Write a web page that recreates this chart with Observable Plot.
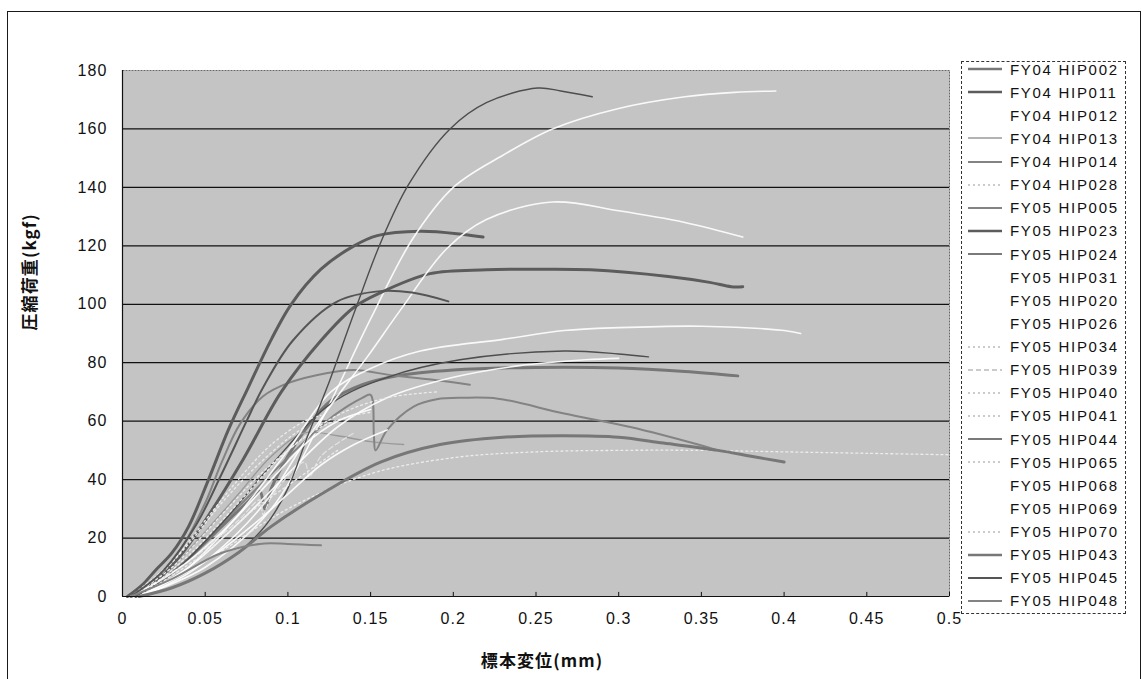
<!DOCTYPE html>
<html>
<head>
<meta charset="utf-8">
<script src="https://cdn.jsdelivr.net/npm/d3@7"></script>
<script src="https://cdn.jsdelivr.net/npm/@observablehq/plot@0.6"></script>
<style>
  body { margin: 0; background: #fff; overflow: hidden; }
  #chart { position: relative; width: 1142px; height: 679px; }
  #chart svg text { letter-spacing: 1.1px; }
  #frame { position: absolute; left: 7px; top: 11px; width: 1132px; height: 720px; border: 1.5px solid #1a1a1a; pointer-events: none; }
  #legend { position: absolute; left: 961px; top: 61px; width: 163px; height: 551px; border: 1px dashed #333; background: #fff; }
  .row { position: absolute; left: 0; height: 24px; display: flex; align-items: center; }
  .row span { font: 15px "Liberation Sans", Arial, sans-serif; letter-spacing: 1.7px; color: #111; margin-left: 2px; white-space: nowrap; }
</style>
</head>
<body>
<div id="chart"></div>
<script>
// Compression load (kgf) versus specimen displacement (mm), one curve per specimen.
const seriesNames = [
  "FY04 HIP002", "FY04 HIP011", "FY04 HIP012", "FY04 HIP013", "FY04 HIP014", "FY04 HIP028",
  "FY05 HIP005", "FY05 HIP023", "FY05 HIP024", "FY05 HIP031", "FY05 HIP020", "FY05 HIP026",
  "FY05 HIP034", "FY05 HIP039", "FY05 HIP040", "FY05 HIP041", "FY05 HIP044", "FY05 HIP065",
  "FY05 HIP068", "FY05 HIP069", "FY05 HIP070", "FY05 HIP043", "FY05 HIP045", "FY05 HIP048"
];

// [displacement mm, load kgf]
const FY04_HIP002 = [[0.005,0],[0.02,4],[0.04,13],[0.06,24],[0.075,32],[0.083,36],[0.086,30],[0.09,37],[0.1,48],[0.113,59],[0.126,67],[0.145,72.5],[0.166,75.5],[0.2,77.5],[0.25,78.4],[0.3,78.2],[0.34,77],[0.372,75.5]];
const FY04_HIP011 = [[0.003,0],[0.012,4],[0.02,9],[0.03,15],[0.04,24],[0.052,40],[0.064,57],[0.076,71.5],[0.09,88],[0.102,100],[0.12,112],[0.14,120],[0.154,123.5],[0.18,125],[0.205,124],[0.218,123]];
const FY04_HIP012 = [[0.01,0],[0.05,10],[0.09,30],[0.12,60],[0.15,95],[0.175,122],[0.2,140],[0.23,151],[0.26,160],[0.3,167],[0.34,171],[0.37,172.5],[0.395,173]];
const FY04_HIP013 = [[0.005,0],[0.025,7],[0.045,19],[0.07,35],[0.09,48],[0.11,56],[0.13,55],[0.15,53],[0.17,52]];
const FY04_HIP014 = [[0.005,0],[0.02,6],[0.035,16],[0.05,32],[0.06,46],[0.071,59],[0.085,68.5],[0.1,73],[0.124,76.5],[0.14,77.5],[0.164,75.6],[0.19,74],[0.21,72.5]];
const FY04_HIP028 = [[0.01,0],[0.05,12],[0.1,30],[0.15,42],[0.2,47.5],[0.25,49.5],[0.3,50],[0.35,50],[0.4,49.5],[0.45,49],[0.5,48.5]];
const FY05_HIP005 = [[0.005,0],[0.03,8],[0.06,25],[0.09,42],[0.11,53],[0.128,62],[0.145,68],[0.15,69],[0.152,55],[0.153,50],[0.16,57],[0.176,65],[0.19,67.5],[0.206,68],[0.227,67.7],[0.267,62.6],[0.307,58],[0.348,52],[0.36,50]];
const FY05_HIP023 = [[0.008,0],[0.02,5],[0.035,14],[0.05,26],[0.073,47],[0.096,70],[0.12,87.6],[0.14,99],[0.156,104],[0.186,110.5],[0.22,111.8],[0.25,112],[0.283,111.8],[0.33,109.5],[0.355,107.5],[0.368,106],[0.375,106]];
const FY05_HIP024 = [[0.005,0],[0.03,8],[0.06,25],[0.09,45],[0.126,66],[0.16,75],[0.204,81],[0.267,84],[0.3,83],[0.318,82]];
const FY05_HIP031 = [[0.01,0],[0.04,8],[0.07,22],[0.09,35],[0.108,51],[0.128,67],[0.148,82],[0.168,98],[0.196,119],[0.22,129],[0.26,135],[0.3,132],[0.34,128],[0.375,123]];
const FY05_HIP020 = [[0.01,0],[0.04,10],[0.07,28],[0.1,50],[0.126,70],[0.15,78],[0.18,84],[0.23,88],[0.267,91],[0.3,92],[0.35,92.5],[0.4,91],[0.41,90]];
const FY05_HIP026 = [[0.01,0],[0.04,10],[0.07,25],[0.1,42],[0.13,58],[0.16,68],[0.2,75],[0.24,79],[0.28,81],[0.3,81.5]];
const FY05_HIP034 = [[0.005,0],[0.03,10],[0.06,28],[0.08,40],[0.1,50],[0.12,58],[0.14,62],[0.15,63]];
const FY05_HIP039 = [[0.005,0],[0.04,12],[0.07,26],[0.083,33],[0.085,28],[0.09,34],[0.11,46],[0.113,41],[0.12,48],[0.14,56]];
const FY05_HIP040 = [[0.01,0],[0.04,14],[0.07,32],[0.1,50],[0.13,62],[0.16,68],[0.19,70]];
const FY05_HIP041 = [[0.005,0],[0.03,12],[0.05,26],[0.07,40],[0.09,52],[0.11,60],[0.12,62]];
const FY05_HIP044 = [[0.01,0],[0.03,3],[0.05,8],[0.07,15],[0.083,22],[0.09,27],[0.1,37],[0.112,55],[0.124,72],[0.14,97],[0.156,121],[0.173,141],[0.198,160],[0.22,169],[0.251,174],[0.265,173],[0.284,171]];
const FY05_HIP065 = [[0.01,0],[0.05,15],[0.08,30],[0.1,38],[0.12,46],[0.13,50]];
const FY05_HIP068 = [[0.005,0],[0.03,8],[0.06,22],[0.09,40],[0.11,52],[0.13,60],[0.15,64]];
const FY05_HIP069 = [[0.01,0],[0.05,12],[0.08,25],[0.1,35],[0.12,45],[0.14,52],[0.16,57]];
const FY05_HIP070 = [[0.005,0],[0.02,6],[0.04,18],[0.06,32],[0.08,44],[0.1,54],[0.11,58]];
const FY05_HIP043 = [[0.01,0],[0.03,3],[0.05,8],[0.07,15],[0.09,24],[0.12,35],[0.156,46],[0.192,52],[0.23,54.5],[0.267,55],[0.3,54.5],[0.327,52.5],[0.36,50],[0.38,48],[0.4,46]];
const FY05_HIP045 = [[0.005,0],[0.015,4],[0.025,9],[0.045,25],[0.06,42],[0.075,60],[0.085,71.5],[0.103,87.6],[0.13,101],[0.156,104.5],[0.175,104],[0.197,101]];
const FY05_HIP048 = [[0.005,0],[0.03,6],[0.059,14.7],[0.083,18],[0.1,18],[0.12,17.5]];

const seriesData = [
  FY04_HIP002, FY04_HIP011, FY04_HIP012, FY04_HIP013, FY04_HIP014, FY04_HIP028,
  FY05_HIP005, FY05_HIP023, FY05_HIP024, FY05_HIP031, FY05_HIP020, FY05_HIP026,
  FY05_HIP034, FY05_HIP039, FY05_HIP040, FY05_HIP041, FY05_HIP044, FY05_HIP065,
  FY05_HIP068, FY05_HIP069, FY05_HIP070, FY05_HIP043, FY05_HIP045, FY05_HIP048
];

const xTicks = [0, 0.05, 0.1, 0.15, 0.2, 0.25, 0.3, 0.35, 0.4, 0.45, 0.5];
const yTicks = [0, 20, 40, 60, 80, 100, 120, 140, 160, 180];
const gridValues = [20, 40, 60, 80, 100, 120, 140, 160];

// Line styles, in series order
const STY = {
  thickGray: {stroke: "#777", strokeWidth: 3},
  thickDark: {stroke: "#5c5c5c", strokeWidth: 3},
  darkMed:   {stroke: "#555", strokeWidth: 2},
  medGray:   {stroke: "#838383", strokeWidth: 2},
  thinDark:  {stroke: "#4e4e4e", strokeWidth: 1.4},
  thinGray:  {stroke: "#9a9a9a", strokeWidth: 1.4},
  white:     {stroke: "#ffffff", strokeWidth: 1.6, strokeOpacity: 0.9},
  dotted:    {stroke: "#ececec", strokeWidth: 1.3, strokeDasharray: "2,3"},
  dashed:    {stroke: "#e2e2e2", strokeWidth: 1.3, strokeDasharray: "5,3"}
};
const seriesStyle = [
  STY.thickGray, STY.thickDark, STY.white, STY.thinGray, STY.medGray, STY.dotted,
  STY.medGray, STY.thickDark, STY.thinDark, STY.white, STY.white, STY.white,
  STY.dotted, STY.dashed, STY.dotted, STY.dotted, STY.thinDark, STY.dotted,
  STY.white, STY.white, STY.dotted, STY.thickGray, STY.darkMed, STY.medGray
];

const lineMarks = seriesData.map((d, i) =>
  Plot.line(d, {x: p => p[0], y: p => p[1], curve: "catmull-rom", ...seriesStyle[i]})
);

const chart = Plot.plot({
  width: 1142,
  height: 679,
  marginLeft: 122,
  marginRight: 193,
  marginTop: 70,
  marginBottom: 83,
  x: {domain: [0, 0.5]},
  y: {domain: [0, 180]},
  style: {fontFamily: '"Liberation Sans", Arial, sans-serif', fontSize: "16px", color: "#111", background: "transparent"},
  marks: [
    Plot.frame({fill: "#c4c4c4", stroke: "#666", strokeDasharray: "2,1"}),
    Plot.ruleY(gridValues, {stroke: "#111", strokeWidth: 1.2}),
    ...lineMarks,
    Plot.ruleX([0], {stroke: "#111", strokeWidth: 1.2}),
    Plot.ruleY([0], {stroke: "#111", strokeWidth: 1.2}),
    Plot.ruleX(xTicks, {y1: 0, y2: 1.4, stroke: "#111"}),
    Plot.axisX(xTicks, {tickSize: 0, tickPadding: 16, tickFormat: d => String(d), label: null}),
    Plot.axisY(yTicks, {tickSize: 0, tickPadding: 15, label: null}),
    Plot.text(["標本変位(mm)"], {frameAnchor: "bottom", dx: 6, dy: 70, fontSize: 17, fontWeight: "bold", fontFamily: '"Noto Sans CJK JP", sans-serif', fill: "#111"}),
    Plot.text(["圧縮荷重(kgf)"], {frameAnchor: "left", dx: -92, dy: -3, rotate: -90, fontSize: 17, fontWeight: "bold", fontFamily: '"Noto Sans CJK JP", sans-serif', fill: "#111"})
  ]
});

const root = document.getElementById("chart");
root.appendChild(chart);

// Legend box with line samples
const legend = document.createElement("div");
legend.id = "legend";
seriesNames.forEach((name, i) => {
  const s = seriesStyle[i];
  const light = s.strokeDasharray ? 'style="stroke:#bbb"' : "";
  const row = document.createElement("div");
  row.className = "row";
  row.style.top = (-5 + i * 23.13) + "px";
  row.innerHTML =
    `<svg width="40" height="8" style="margin-left:6px"><line x1="0" y1="4" x2="34" y2="4" stroke="${s.stroke}" stroke-width="${Math.min(s.strokeWidth, 2.5)}" ${s.strokeDasharray ? `stroke-dasharray="${s.strokeDasharray}"` : ""} ${light}/></svg><span>${name}</span>`;
  legend.appendChild(row);
});
root.appendChild(legend);

const frame = document.createElement("div");
frame.id = "frame";
root.appendChild(frame);
</script>
</body>
</html>
